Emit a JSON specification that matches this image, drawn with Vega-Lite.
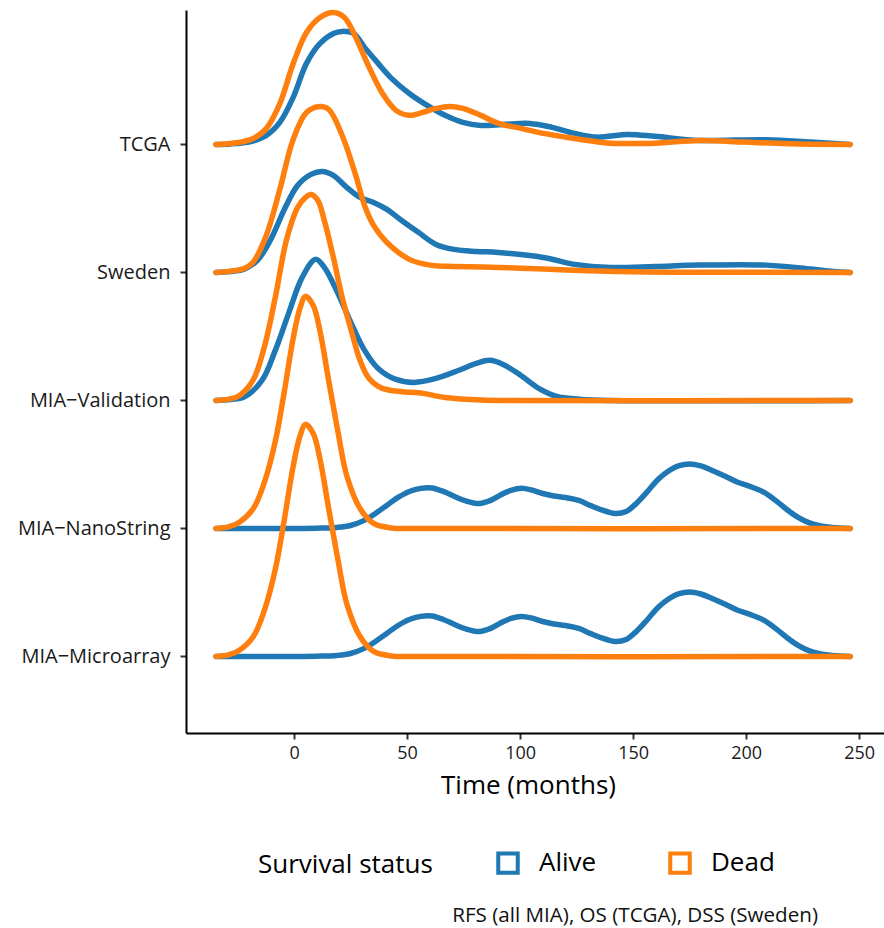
{
  "$schema": "https://vega.github.io/schema/vega-lite/v6.json",
  "width": 698,
  "height": 723,
  "autosize": {"type": "none"},
  "padding": {"left": 186, "top": 10, "right": 0, "bottom": 195},
  "background": "white",
  "title": {"text": "RFS (all MIA), OS (TCGA), DSS (Sweden)", "orient": "bottom", "anchor": "end", "frame": "group", "dx": -66, "offset": 25, "fontSize": 20.6, "fontWeight": "normal", "font": "Open Sans", "color": "#111111"},
  "data": {"values": [
    {"c":"TCGA","s":"Alive","t":-34.5,"y":5},
    {"c":"TCGA","s":"Alive","t":-28,"y":5.004},
    {"c":"TCGA","s":"Alive","t":-23,"y":5.011},
    {"c":"TCGA","s":"Alive","t":-18.2,"y":5.026},
    {"c":"TCGA","s":"Alive","t":-12.3,"y":5.07},
    {"c":"TCGA","s":"Alive","t":-6.3,"y":5.172},
    {"c":"TCGA","s":"Alive","t":-0.4,"y":5.367},
    {"c":"TCGA","s":"Alive","t":5.5,"y":5.633},
    {"c":"TCGA","s":"Alive","t":11.5,"y":5.789},
    {"c":"TCGA","s":"Alive","t":17.4,"y":5.867},
    {"c":"TCGA","s":"Alive","t":21.3,"y":5.883},
    {"c":"TCGA","s":"Alive","t":26.3,"y":5.867},
    {"c":"TCGA","s":"Alive","t":31.2,"y":5.758},
    {"c":"TCGA","s":"Alive","t":37.2,"y":5.633},
    {"c":"TCGA","s":"Alive","t":43.1,"y":5.516},
    {"c":"TCGA","s":"Alive","t":51,"y":5.398},
    {"c":"TCGA","s":"Alive","t":58.9,"y":5.305},
    {"c":"TCGA","s":"Alive","t":66.8,"y":5.227},
    {"c":"TCGA","s":"Alive","t":74.7,"y":5.172},
    {"c":"TCGA","s":"Alive","t":82.6,"y":5.148},
    {"c":"TCGA","s":"Alive","t":92.5,"y":5.156},
    {"c":"TCGA","s":"Alive","t":104.3,"y":5.164},
    {"c":"TCGA","s":"Alive","t":114.2,"y":5.133},
    {"c":"TCGA","s":"Alive","t":124.1,"y":5.086},
    {"c":"TCGA","s":"Alive","t":134,"y":5.057},
    {"c":"TCGA","s":"Alive","t":147.8,"y":5.078},
    {"c":"TCGA","s":"Alive","t":159.7,"y":5.063},
    {"c":"TCGA","s":"Alive","t":179.4,"y":5.031},
    {"c":"TCGA","s":"Alive","t":209,"y":5.037},
    {"c":"TCGA","s":"Alive","t":228.7,"y":5.018},
    {"c":"TCGA","s":"Alive","t":246,"y":5},
    {"c":"Sweden","s":"Alive","t":-34.5,"y":4},
    {"c":"Sweden","s":"Alive","t":-28,"y":4.007},
    {"c":"Sweden","s":"Alive","t":-22.1,"y":4.026},
    {"c":"Sweden","s":"Alive","t":-16.2,"y":4.094},
    {"c":"Sweden","s":"Alive","t":-10.3,"y":4.258},
    {"c":"Sweden","s":"Alive","t":-4.3,"y":4.492},
    {"c":"Sweden","s":"Alive","t":1.6,"y":4.68},
    {"c":"Sweden","s":"Alive","t":7.5,"y":4.766},
    {"c":"Sweden","s":"Alive","t":12.5,"y":4.789},
    {"c":"Sweden","s":"Alive","t":17.4,"y":4.758},
    {"c":"Sweden","s":"Alive","t":23.3,"y":4.664},
    {"c":"Sweden","s":"Alive","t":29.2,"y":4.586},
    {"c":"Sweden","s":"Alive","t":35.2,"y":4.547},
    {"c":"Sweden","s":"Alive","t":41.1,"y":4.492},
    {"c":"Sweden","s":"Alive","t":47,"y":4.414},
    {"c":"Sweden","s":"Alive","t":55,"y":4.313},
    {"c":"Sweden","s":"Alive","t":62.8,"y":4.219},
    {"c":"Sweden","s":"Alive","t":70.8,"y":4.18},
    {"c":"Sweden","s":"Alive","t":80.6,"y":4.164},
    {"c":"Sweden","s":"Alive","t":90.5,"y":4.156},
    {"c":"Sweden","s":"Alive","t":110.3,"y":4.117},
    {"c":"Sweden","s":"Alive","t":124.1,"y":4.063},
    {"c":"Sweden","s":"Alive","t":140,"y":4.039},
    {"c":"Sweden","s":"Alive","t":159.7,"y":4.047},
    {"c":"Sweden","s":"Alive","t":179.4,"y":4.057},
    {"c":"Sweden","s":"Alive","t":209,"y":4.057},
    {"c":"Sweden","s":"Alive","t":228.7,"y":4.026},
    {"c":"Sweden","s":"Alive","t":238.7,"y":4.008},
    {"c":"Sweden","s":"Alive","t":246,"y":4},
    {"c":"MIA-Validation","s":"Alive","t":-34.5,"y":3},
    {"c":"MIA-Validation","s":"Alive","t":-28,"y":3.008},
    {"c":"MIA-Validation","s":"Alive","t":-22.1,"y":3.026},
    {"c":"MIA-Validation","s":"Alive","t":-14.2,"y":3.156},
    {"c":"MIA-Validation","s":"Alive","t":-8.3,"y":3.391},
    {"c":"MIA-Validation","s":"Alive","t":-2.4,"y":3.68},
    {"c":"MIA-Validation","s":"Alive","t":3.6,"y":3.961},
    {"c":"MIA-Validation","s":"Alive","t":9.5,"y":4.102},
    {"c":"MIA-Validation","s":"Alive","t":13.4,"y":4.039},
    {"c":"MIA-Validation","s":"Alive","t":19.4,"y":3.836},
    {"c":"MIA-Validation","s":"Alive","t":25.3,"y":3.602},
    {"c":"MIA-Validation","s":"Alive","t":31.2,"y":3.391},
    {"c":"MIA-Validation","s":"Alive","t":37.2,"y":3.25},
    {"c":"MIA-Validation","s":"Alive","t":45.1,"y":3.164},
    {"c":"MIA-Validation","s":"Alive","t":53,"y":3.141},
    {"c":"MIA-Validation","s":"Alive","t":62.8,"y":3.172},
    {"c":"MIA-Validation","s":"Alive","t":72.7,"y":3.234},
    {"c":"MIA-Validation","s":"Alive","t":80.6,"y":3.289},
    {"c":"MIA-Validation","s":"Alive","t":86.6,"y":3.313},
    {"c":"MIA-Validation","s":"Alive","t":92.5,"y":3.281},
    {"c":"MIA-Validation","s":"Alive","t":100.4,"y":3.195},
    {"c":"MIA-Validation","s":"Alive","t":108.3,"y":3.094},
    {"c":"MIA-Validation","s":"Alive","t":116.2,"y":3.031},
    {"c":"MIA-Validation","s":"Alive","t":126.1,"y":3.01},
    {"c":"MIA-Validation","s":"Alive","t":140,"y":3},
    {"c":"MIA-Validation","s":"Alive","t":246,"y":3},
    {"c":"MIA-NanoString","s":"Alive","t":-34.5,"y":2},
    {"c":"MIA-NanoString","s":"Alive","t":-10,"y":2},
    {"c":"MIA-NanoString","s":"Alive","t":10,"y":2.002},
    {"c":"MIA-NanoString","s":"Alive","t":19,"y":2.008},
    {"c":"MIA-NanoString","s":"Alive","t":25,"y":2.023},
    {"c":"MIA-NanoString","s":"Alive","t":31,"y":2.063},
    {"c":"MIA-NanoString","s":"Alive","t":36,"y":2.117},
    {"c":"MIA-NanoString","s":"Alive","t":41,"y":2.18},
    {"c":"MIA-NanoString","s":"Alive","t":46,"y":2.242},
    {"c":"MIA-NanoString","s":"Alive","t":51,"y":2.289},
    {"c":"MIA-NanoString","s":"Alive","t":56,"y":2.313},
    {"c":"MIA-NanoString","s":"Alive","t":61,"y":2.316},
    {"c":"MIA-NanoString","s":"Alive","t":66,"y":2.289},
    {"c":"MIA-NanoString","s":"Alive","t":71,"y":2.25},
    {"c":"MIA-NanoString","s":"Alive","t":76,"y":2.215},
    {"c":"MIA-NanoString","s":"Alive","t":82,"y":2.195},
    {"c":"MIA-NanoString","s":"Alive","t":87,"y":2.219},
    {"c":"MIA-NanoString","s":"Alive","t":91,"y":2.258},
    {"c":"MIA-NanoString","s":"Alive","t":96,"y":2.297},
    {"c":"MIA-NanoString","s":"Alive","t":100.5,"y":2.313},
    {"c":"MIA-NanoString","s":"Alive","t":105,"y":2.301},
    {"c":"MIA-NanoString","s":"Alive","t":110,"y":2.273},
    {"c":"MIA-NanoString","s":"Alive","t":115,"y":2.254},
    {"c":"MIA-NanoString","s":"Alive","t":120,"y":2.242},
    {"c":"MIA-NanoString","s":"Alive","t":126,"y":2.219},
    {"c":"MIA-NanoString","s":"Alive","t":131,"y":2.18},
    {"c":"MIA-NanoString","s":"Alive","t":136,"y":2.145},
    {"c":"MIA-NanoString","s":"Alive","t":142,"y":2.117},
    {"c":"MIA-NanoString","s":"Alive","t":147,"y":2.133},
    {"c":"MIA-NanoString","s":"Alive","t":151,"y":2.188},
    {"c":"MIA-NanoString","s":"Alive","t":156,"y":2.281},
    {"c":"MIA-NanoString","s":"Alive","t":161,"y":2.383},
    {"c":"MIA-NanoString","s":"Alive","t":166,"y":2.453},
    {"c":"MIA-NanoString","s":"Alive","t":170,"y":2.488},
    {"c":"MIA-NanoString","s":"Alive","t":175,"y":2.504},
    {"c":"MIA-NanoString","s":"Alive","t":180,"y":2.488},
    {"c":"MIA-NanoString","s":"Alive","t":185,"y":2.453},
    {"c":"MIA-NanoString","s":"Alive","t":190,"y":2.414},
    {"c":"MIA-NanoString","s":"Alive","t":196,"y":2.363},
    {"c":"MIA-NanoString","s":"Alive","t":203,"y":2.32},
    {"c":"MIA-NanoString","s":"Alive","t":208,"y":2.281},
    {"c":"MIA-NanoString","s":"Alive","t":213,"y":2.219},
    {"c":"MIA-NanoString","s":"Alive","t":218,"y":2.148},
    {"c":"MIA-NanoString","s":"Alive","t":223,"y":2.086},
    {"c":"MIA-NanoString","s":"Alive","t":228,"y":2.043},
    {"c":"MIA-NanoString","s":"Alive","t":233,"y":2.02},
    {"c":"MIA-NanoString","s":"Alive","t":238,"y":2.008},
    {"c":"MIA-NanoString","s":"Alive","t":246,"y":2},
    {"c":"MIA-Microarray","s":"Alive","t":-34.5,"y":1},
    {"c":"MIA-Microarray","s":"Alive","t":-10,"y":1},
    {"c":"MIA-Microarray","s":"Alive","t":10,"y":1.002},
    {"c":"MIA-Microarray","s":"Alive","t":19,"y":1.008},
    {"c":"MIA-Microarray","s":"Alive","t":25,"y":1.023},
    {"c":"MIA-Microarray","s":"Alive","t":31,"y":1.063},
    {"c":"MIA-Microarray","s":"Alive","t":36,"y":1.117},
    {"c":"MIA-Microarray","s":"Alive","t":41,"y":1.18},
    {"c":"MIA-Microarray","s":"Alive","t":46,"y":1.242},
    {"c":"MIA-Microarray","s":"Alive","t":51,"y":1.289},
    {"c":"MIA-Microarray","s":"Alive","t":56,"y":1.313},
    {"c":"MIA-Microarray","s":"Alive","t":61,"y":1.316},
    {"c":"MIA-Microarray","s":"Alive","t":66,"y":1.289},
    {"c":"MIA-Microarray","s":"Alive","t":71,"y":1.25},
    {"c":"MIA-Microarray","s":"Alive","t":76,"y":1.215},
    {"c":"MIA-Microarray","s":"Alive","t":82,"y":1.195},
    {"c":"MIA-Microarray","s":"Alive","t":87,"y":1.219},
    {"c":"MIA-Microarray","s":"Alive","t":91,"y":1.258},
    {"c":"MIA-Microarray","s":"Alive","t":96,"y":1.297},
    {"c":"MIA-Microarray","s":"Alive","t":100.5,"y":1.313},
    {"c":"MIA-Microarray","s":"Alive","t":105,"y":1.301},
    {"c":"MIA-Microarray","s":"Alive","t":110,"y":1.273},
    {"c":"MIA-Microarray","s":"Alive","t":115,"y":1.254},
    {"c":"MIA-Microarray","s":"Alive","t":120,"y":1.242},
    {"c":"MIA-Microarray","s":"Alive","t":126,"y":1.219},
    {"c":"MIA-Microarray","s":"Alive","t":131,"y":1.18},
    {"c":"MIA-Microarray","s":"Alive","t":136,"y":1.145},
    {"c":"MIA-Microarray","s":"Alive","t":142,"y":1.117},
    {"c":"MIA-Microarray","s":"Alive","t":147,"y":1.133},
    {"c":"MIA-Microarray","s":"Alive","t":151,"y":1.188},
    {"c":"MIA-Microarray","s":"Alive","t":156,"y":1.281},
    {"c":"MIA-Microarray","s":"Alive","t":161,"y":1.383},
    {"c":"MIA-Microarray","s":"Alive","t":166,"y":1.453},
    {"c":"MIA-Microarray","s":"Alive","t":170,"y":1.488},
    {"c":"MIA-Microarray","s":"Alive","t":175,"y":1.504},
    {"c":"MIA-Microarray","s":"Alive","t":180,"y":1.488},
    {"c":"MIA-Microarray","s":"Alive","t":185,"y":1.453},
    {"c":"MIA-Microarray","s":"Alive","t":190,"y":1.414},
    {"c":"MIA-Microarray","s":"Alive","t":196,"y":1.363},
    {"c":"MIA-Microarray","s":"Alive","t":203,"y":1.32},
    {"c":"MIA-Microarray","s":"Alive","t":208,"y":1.281},
    {"c":"MIA-Microarray","s":"Alive","t":213,"y":1.219},
    {"c":"MIA-Microarray","s":"Alive","t":218,"y":1.148},
    {"c":"MIA-Microarray","s":"Alive","t":223,"y":1.086},
    {"c":"MIA-Microarray","s":"Alive","t":228,"y":1.043},
    {"c":"MIA-Microarray","s":"Alive","t":233,"y":1.02},
    {"c":"MIA-Microarray","s":"Alive","t":238,"y":1.008},
    {"c":"MIA-Microarray","s":"Alive","t":246,"y":1},
    {"c":"TCGA","s":"Dead","t":-34.5,"y":5},
    {"c":"TCGA","s":"Dead","t":-28,"y":5.007},
    {"c":"TCGA","s":"Dead","t":-23,"y":5.02},
    {"c":"TCGA","s":"Dead","t":-18.2,"y":5.045},
    {"c":"TCGA","s":"Dead","t":-12.3,"y":5.123},
    {"c":"TCGA","s":"Dead","t":-6.3,"y":5.318},
    {"c":"TCGA","s":"Dead","t":-0.4,"y":5.63},
    {"c":"TCGA","s":"Dead","t":5.5,"y":5.875},
    {"c":"TCGA","s":"Dead","t":11.5,"y":5.992},
    {"c":"TCGA","s":"Dead","t":17.4,"y":6.031},
    {"c":"TCGA","s":"Dead","t":22.3,"y":5.992},
    {"c":"TCGA","s":"Dead","t":27.3,"y":5.836},
    {"c":"TCGA","s":"Dead","t":33.2,"y":5.602},
    {"c":"TCGA","s":"Dead","t":39.1,"y":5.398},
    {"c":"TCGA","s":"Dead","t":45.1,"y":5.266},
    {"c":"TCGA","s":"Dead","t":51,"y":5.227},
    {"c":"TCGA","s":"Dead","t":56.9,"y":5.25},
    {"c":"TCGA","s":"Dead","t":62.8,"y":5.281},
    {"c":"TCGA","s":"Dead","t":68.8,"y":5.297},
    {"c":"TCGA","s":"Dead","t":74.7,"y":5.281},
    {"c":"TCGA","s":"Dead","t":82.6,"y":5.227},
    {"c":"TCGA","s":"Dead","t":90.5,"y":5.164},
    {"c":"TCGA","s":"Dead","t":100.4,"y":5.125},
    {"c":"TCGA","s":"Dead","t":110.3,"y":5.086},
    {"c":"TCGA","s":"Dead","t":120.2,"y":5.057},
    {"c":"TCGA","s":"Dead","t":130,"y":5.031},
    {"c":"TCGA","s":"Dead","t":140,"y":5.01},
    {"c":"TCGA","s":"Dead","t":159.7,"y":5.01},
    {"c":"TCGA","s":"Dead","t":179.4,"y":5.031},
    {"c":"TCGA","s":"Dead","t":199.2,"y":5.018},
    {"c":"TCGA","s":"Dead","t":219,"y":5.005},
    {"c":"TCGA","s":"Dead","t":246,"y":5},
    {"c":"Sweden","s":"Dead","t":-34.5,"y":4},
    {"c":"Sweden","s":"Dead","t":-28,"y":4.01},
    {"c":"Sweden","s":"Dead","t":-22.1,"y":4.031},
    {"c":"Sweden","s":"Dead","t":-18.2,"y":4.078},
    {"c":"Sweden","s":"Dead","t":-12.3,"y":4.289},
    {"c":"Sweden","s":"Dead","t":-6.3,"y":4.648},
    {"c":"Sweden","s":"Dead","t":-0.4,"y":5.039},
    {"c":"Sweden","s":"Dead","t":5.5,"y":5.25},
    {"c":"Sweden","s":"Dead","t":11.5,"y":5.297},
    {"c":"Sweden","s":"Dead","t":15.4,"y":5.273},
    {"c":"Sweden","s":"Dead","t":21.3,"y":5.07},
    {"c":"Sweden","s":"Dead","t":27.3,"y":4.758},
    {"c":"Sweden","s":"Dead","t":31.2,"y":4.523},
    {"c":"Sweden","s":"Dead","t":35.2,"y":4.367},
    {"c":"Sweden","s":"Dead","t":41.1,"y":4.234},
    {"c":"Sweden","s":"Dead","t":51,"y":4.102},
    {"c":"Sweden","s":"Dead","t":60.9,"y":4.055},
    {"c":"Sweden","s":"Dead","t":70.8,"y":4.047},
    {"c":"Sweden","s":"Dead","t":90.5,"y":4.039},
    {"c":"Sweden","s":"Dead","t":110.3,"y":4.026},
    {"c":"Sweden","s":"Dead","t":130,"y":4.013},
    {"c":"Sweden","s":"Dead","t":149.8,"y":4.005},
    {"c":"Sweden","s":"Dead","t":169.6,"y":4.002},
    {"c":"Sweden","s":"Dead","t":246,"y":4},
    {"c":"MIA-Validation","s":"Dead","t":-34.5,"y":3},
    {"c":"MIA-Validation","s":"Dead","t":-29,"y":3.01},
    {"c":"MIA-Validation","s":"Dead","t":-24.1,"y":3.039},
    {"c":"MIA-Validation","s":"Dead","t":-18.2,"y":3.156},
    {"c":"MIA-Validation","s":"Dead","t":-13.2,"y":3.414},
    {"c":"MIA-Validation","s":"Dead","t":-8.3,"y":3.805},
    {"c":"MIA-Validation","s":"Dead","t":-3.4,"y":4.25},
    {"c":"MIA-Validation","s":"Dead","t":1.6,"y":4.508},
    {"c":"MIA-Validation","s":"Dead","t":5.1,"y":4.586},
    {"c":"MIA-Validation","s":"Dead","t":7.5,"y":4.609},
    {"c":"MIA-Validation","s":"Dead","t":10.5,"y":4.563},
    {"c":"MIA-Validation","s":"Dead","t":13.4,"y":4.406},
    {"c":"MIA-Validation","s":"Dead","t":17.4,"y":4.117},
    {"c":"MIA-Validation","s":"Dead","t":21.3,"y":3.805},
    {"c":"MIA-Validation","s":"Dead","t":25.3,"y":3.547},
    {"c":"MIA-Validation","s":"Dead","t":29.2,"y":3.313},
    {"c":"MIA-Validation","s":"Dead","t":33.2,"y":3.172},
    {"c":"MIA-Validation","s":"Dead","t":39.1,"y":3.094},
    {"c":"MIA-Validation","s":"Dead","t":47,"y":3.07},
    {"c":"MIA-Validation","s":"Dead","t":57,"y":3.055},
    {"c":"MIA-Validation","s":"Dead","t":66.8,"y":3.023},
    {"c":"MIA-Validation","s":"Dead","t":80.6,"y":3.005},
    {"c":"MIA-Validation","s":"Dead","t":90.5,"y":3},
    {"c":"MIA-Validation","s":"Dead","t":246,"y":3},
    {"c":"MIA-NanoString","s":"Dead","t":-34.5,"y":2},
    {"c":"MIA-NanoString","s":"Dead","t":-29,"y":2.012},
    {"c":"MIA-NanoString","s":"Dead","t":-24,"y":2.051},
    {"c":"MIA-NanoString","s":"Dead","t":-18,"y":2.156},
    {"c":"MIA-NanoString","s":"Dead","t":-13,"y":2.367},
    {"c":"MIA-NanoString","s":"Dead","t":-8.3,"y":2.68},
    {"c":"MIA-NanoString","s":"Dead","t":-4.3,"y":3.07},
    {"c":"MIA-NanoString","s":"Dead","t":-0.4,"y":3.484},
    {"c":"MIA-NanoString","s":"Dead","t":2.6,"y":3.719},
    {"c":"MIA-NanoString","s":"Dead","t":5.1,"y":3.813},
    {"c":"MIA-NanoString","s":"Dead","t":8.5,"y":3.742},
    {"c":"MIA-NanoString","s":"Dead","t":11.5,"y":3.539},
    {"c":"MIA-NanoString","s":"Dead","t":15.4,"y":3.148},
    {"c":"MIA-NanoString","s":"Dead","t":19.4,"y":2.758},
    {"c":"MIA-NanoString","s":"Dead","t":23.3,"y":2.414},
    {"c":"MIA-NanoString","s":"Dead","t":29.2,"y":2.156},
    {"c":"MIA-NanoString","s":"Dead","t":35.2,"y":2.039},
    {"c":"MIA-NanoString","s":"Dead","t":43,"y":2.004},
    {"c":"MIA-NanoString","s":"Dead","t":55,"y":2},
    {"c":"MIA-NanoString","s":"Dead","t":246,"y":2},
    {"c":"MIA-Microarray","s":"Dead","t":-34.5,"y":1},
    {"c":"MIA-Microarray","s":"Dead","t":-29,"y":1.012},
    {"c":"MIA-Microarray","s":"Dead","t":-24,"y":1.051},
    {"c":"MIA-Microarray","s":"Dead","t":-18,"y":1.156},
    {"c":"MIA-Microarray","s":"Dead","t":-13,"y":1.367},
    {"c":"MIA-Microarray","s":"Dead","t":-8.3,"y":1.68},
    {"c":"MIA-Microarray","s":"Dead","t":-4.3,"y":2.07},
    {"c":"MIA-Microarray","s":"Dead","t":-0.4,"y":2.484},
    {"c":"MIA-Microarray","s":"Dead","t":2.6,"y":2.719},
    {"c":"MIA-Microarray","s":"Dead","t":5.1,"y":2.813},
    {"c":"MIA-Microarray","s":"Dead","t":8.5,"y":2.742},
    {"c":"MIA-Microarray","s":"Dead","t":11.5,"y":2.539},
    {"c":"MIA-Microarray","s":"Dead","t":15.4,"y":2.148},
    {"c":"MIA-Microarray","s":"Dead","t":19.4,"y":1.758},
    {"c":"MIA-Microarray","s":"Dead","t":23.3,"y":1.414},
    {"c":"MIA-Microarray","s":"Dead","t":29.2,"y":1.156},
    {"c":"MIA-Microarray","s":"Dead","t":35.2,"y":1.039},
    {"c":"MIA-Microarray","s":"Dead","t":43,"y":1.004},
    {"c":"MIA-Microarray","s":"Dead","t":55,"y":1},
    {"c":"MIA-Microarray","s":"Dead","t":246,"y":1}
  ]},
  "mark": {"type": "line", "interpolate": "catmull-rom", "strokeWidth": 5.5, "strokeCap": "round", "strokeJoin": "round"},
  "encoding": {
    "x": {"field": "t", "type": "quantitative",
      "scale": {"domain": [-47.8, 261], "nice": false, "zero": false},
      "axis": {"values": [0, 50, 100, 150, 200, 250], "title": "Time (months)", "grid": false,
        "domainColor": "#000000", "domainWidth": 2, "tickColor": "#333333", "tickWidth": 2, "tickSize": 6,
        "labelFont": "Open Sans", "labelFontSize": 18, "labelColor": "#1a1a1a", "labelPadding": 5,
        "titleFont": "Open Sans", "titleFontSize": 26, "titleFontWeight": "normal", "titleColor": "#000000", "titlePadding": 10, "titleX": 342}},
    "y": {"field": "y", "type": "quantitative",
      "scale": {"domain": [0.402, 6.05], "nice": false, "zero": false},
      "axis": {"values": [1, 2, 3, 4, 5], "title": null, "grid": false,
        "labelExpr": "datum.value == 1 ? 'MIA−Microarray' : datum.value == 2 ? 'MIA−NanoString' : datum.value == 3 ? 'MIA−Validation' : datum.value == 4 ? 'Sweden' : 'TCGA'",
        "domainColor": "#000000", "domainWidth": 2, "tickColor": "#333333", "tickWidth": 2, "tickSize": 6,
        "labelFont": "Open Sans", "labelFontSize": 20, "labelColor": "#1a1a1a", "labelPadding": 10}},
    "color": {"field": "s", "type": "nominal",
      "scale": {"domain": ["Alive", "Dead"], "range": ["#1f77b4", "#ff7f0e"]},
      "legend": {"title": "Survival status", "orient": "none", "legendX": 72, "legendY": 840, "direction": "horizontal",
        "titleOrient": "left", "titleFont": "Open Sans", "titleFontSize": 26, "titleFontWeight": "normal", "titleColor": "#000000", "titlePadding": 62,
        "labelFont": "Open Sans", "labelFontSize": 26, "labelColor": "#000000", "labelOffset": 18,
        "symbolType": "square", "symbolSize": 380, "symbolStrokeWidth": 4, "symbolFillColor": "white", "symbolOpacity": 1,
        "columnPadding": 65}},
    "detail": {"field": "c"}
  },
  "config": {"view": {"stroke": null}}
}
